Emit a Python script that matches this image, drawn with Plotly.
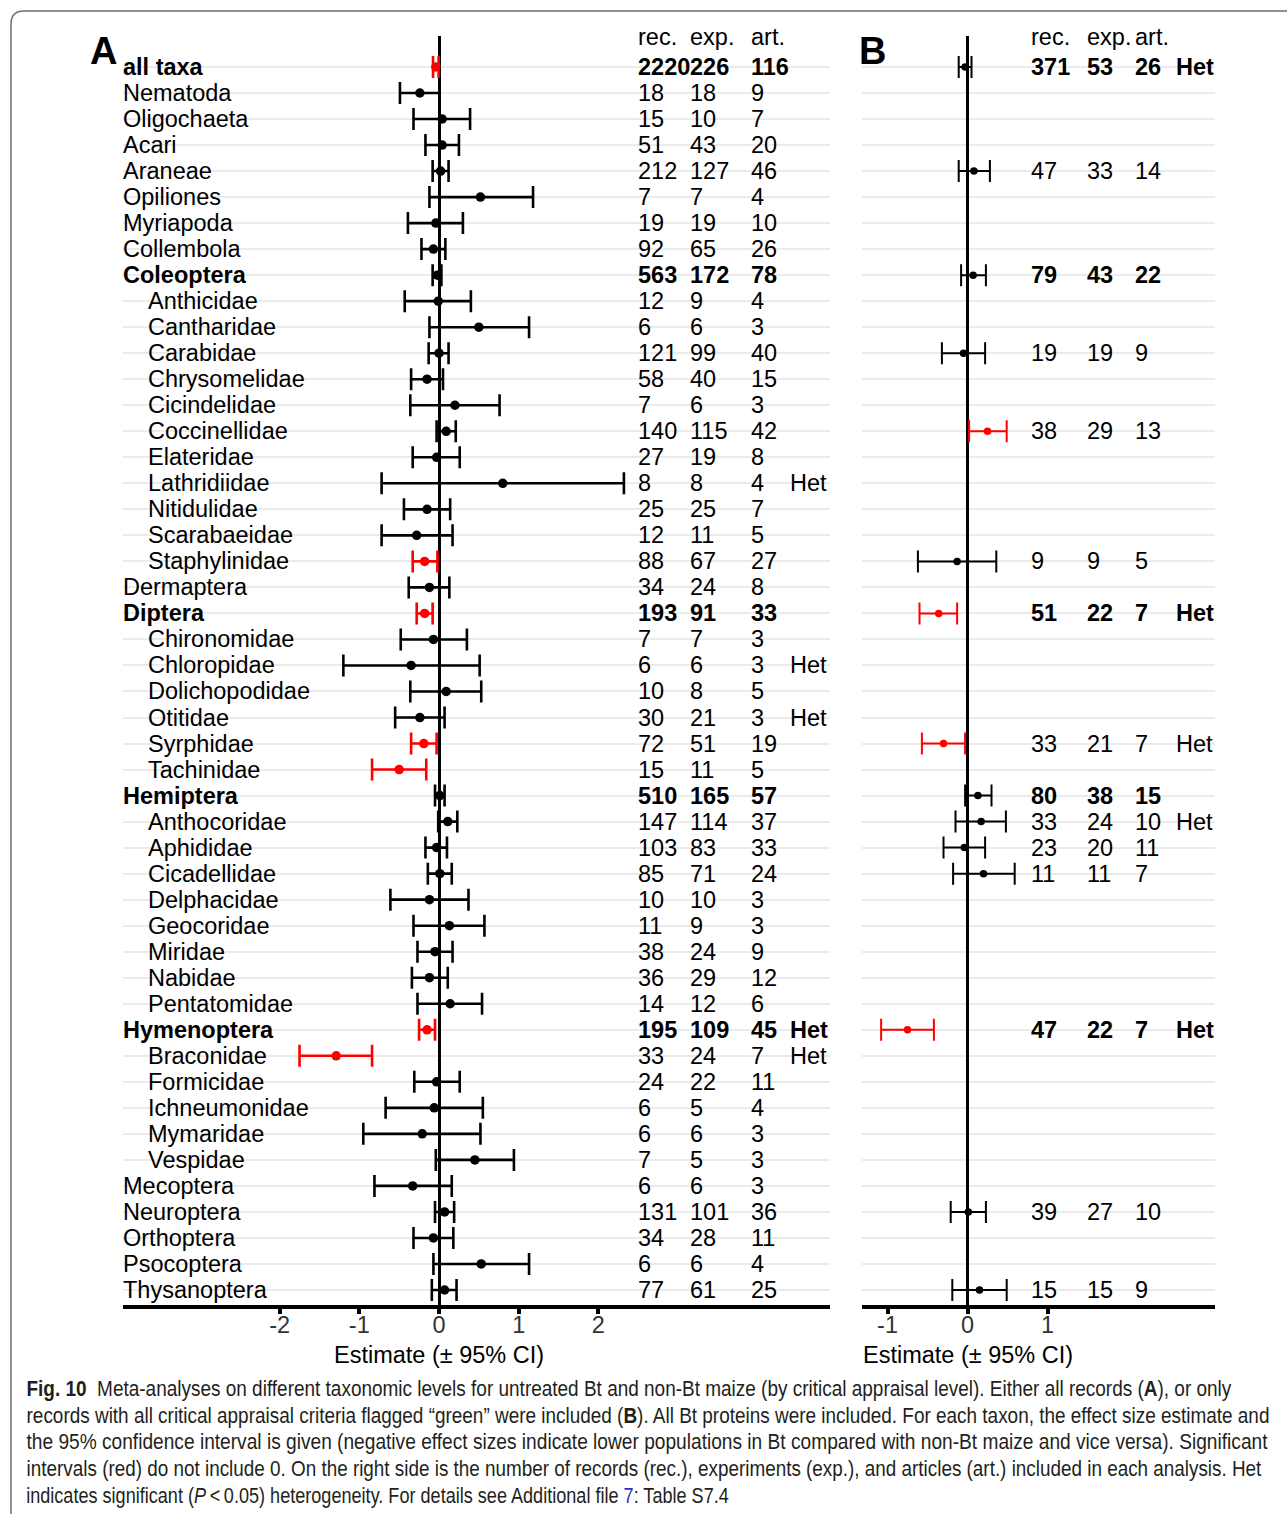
import plotly.graph_objects as go

W, H = 1287, 1514

# ---------------- data: panel A (all records) ----------------
taxa = [
    "all taxa", "Nematoda", "Oligochaeta", "Acari", "Araneae", "Opiliones",
    "Myriapoda", "Collembola", "Coleoptera", "Anthicidae", "Cantharidae",
    "Carabidae", "Chrysomelidae", "Cicindelidae", "Coccinellidae", "Elateridae",
    "Lathridiidae", "Nitidulidae", "Scarabaeidae", "Staphylinidae", "Dermaptera",
    "Diptera", "Chironomidae", "Chloropidae", "Dolichopodidae", "Otitidae",
    "Syrphidae", "Tachinidae", "Hemiptera", "Anthocoridae", "Aphididae",
    "Cicadellidae", "Delphacidae", "Geocoridae", "Miridae", "Nabidae",
    "Pentatomidae", "Hymenoptera", "Braconidae", "Formicidae", "Ichneumonidae",
    "Mymaridae", "Vespidae", "Mecoptera", "Neuroptera", "Orthoptera",
    "Psocoptera", "Thysanoptera",
]
# 0 = overall / order level, 1 = family level (indented)
level = [
    0, 0, 0, 0, 0, 0, 0, 0, 0, 1, 1, 1, 1, 1, 1, 1, 1, 1, 1, 1, 0,
    0, 1, 1, 1, 1, 1, 1, 0, 1, 1, 1, 1, 1, 1, 1, 1, 0, 1, 1, 1, 1, 1,
    0, 0, 0, 0, 0,
]
bold_taxa = ["all taxa", "Coleoptera", "Diptera", "Hemiptera", "Hymenoptera"]

est_a = [-0.04, -0.24, 0.04, 0.04, 0.02, 0.52, -0.04, -0.07, -0.02, -0.01, 0.50,
         0.00, -0.15, 0.20, 0.09, -0.03, 0.80, -0.15, -0.28, -0.18, -0.12,
         -0.18, -0.07, -0.35, 0.09, -0.24, -0.19, -0.50, 0.01, 0.11, -0.03,
         0.01, -0.12, 0.13, -0.05, -0.12, 0.14, -0.15, -1.29, -0.03, -0.06,
         -0.21, 0.45, -0.33, 0.07, -0.07, 0.53, 0.07]
lo_a = [-0.075, -0.49, -0.32, -0.17, -0.08, -0.12, -0.39, -0.22, -0.08, -0.43, -0.12,
        -0.13, -0.35, -0.36, -0.03, -0.33, -0.72, -0.44, -0.72, -0.33, -0.38,
        -0.28, -0.48, -1.20, -0.36, -0.55, -0.35, -0.84, -0.05, -0.01, -0.17,
        -0.14, -0.61, -0.32, -0.27, -0.34, -0.27, -0.25, -1.75, -0.31, -0.67,
        -0.95, -0.04, -0.81, -0.05, -0.32, -0.07, -0.09]
hi_a = [-0.005, 0.005, 0.39, 0.25, 0.12, 1.18, 0.30, 0.08, 0.03, 0.40, 1.13,
        0.12, 0.05, 0.76, 0.21, 0.26, 2.32, 0.14, 0.17, -0.02, 0.13,
        -0.08, 0.35, 0.51, 0.53, 0.07, -0.03, -0.16, 0.07, 0.23, 0.10,
        0.16, 0.37, 0.57, 0.17, 0.11, 0.54, -0.05, -0.84, 0.26, 0.55,
        0.52, 0.94, 0.16, 0.19, 0.18, 1.13, 0.22]
rec_a = [2220, 18, 15, 51, 212, 7, 19, 92, 563, 12, 6, 121, 58, 7, 140, 27, 8, 25,
         12, 88, 34, 193, 7, 6, 10, 30, 72, 15, 510, 147, 103, 85, 10, 11, 38, 36,
         14, 195, 33, 24, 6, 6, 7, 6, 131, 34, 6, 77]
exp_a = [226, 18, 10, 43, 127, 7, 19, 65, 172, 9, 6, 99, 40, 6, 115, 19, 8, 25,
         11, 67, 24, 91, 7, 6, 8, 21, 51, 11, 165, 114, 83, 71, 10, 9, 24, 29,
         12, 109, 24, 22, 5, 6, 5, 6, 101, 28, 6, 61]
art_a = [116, 9, 7, 20, 46, 4, 10, 26, 78, 4, 3, 40, 15, 3, 42, 8, 4, 7,
         5, 27, 8, 33, 3, 3, 5, 3, 19, 5, 57, 37, 33, 24, 3, 3, 9, 12,
         6, 45, 7, 11, 4, 3, 3, 3, 36, 11, 4, 25]
het_a = ["Lathridiidae", "Chloropidae", "Otitidae", "Hymenoptera", "Braconidae"]

# ---------------- data: panel B (all criteria "green") ----------------
taxa_b = ["all taxa", "Araneae", "Coleoptera", "Carabidae", "Coccinellidae",
          "Staphylinidae", "Diptera", "Syrphidae", "Hemiptera", "Anthocoridae",
          "Aphididae", "Cicadellidae", "Hymenoptera", "Neuroptera", "Thysanoptera"]
est_b = [-0.03, 0.08, 0.07, -0.05, 0.25, -0.13, -0.36, -0.30, 0.13, 0.17,
         -0.04, 0.20, -0.75, 0.01, 0.15]
lo_b = [-0.11, -0.11, -0.08, -0.32, 0.02, -0.62, -0.60, -0.57, -0.03, -0.15,
        -0.30, -0.18, -1.08, -0.21, -0.19]
hi_b = [0.05, 0.28, 0.23, 0.22, 0.49, 0.36, -0.13, -0.03, 0.30, 0.48,
        0.22, 0.59, -0.42, 0.23, 0.49]
rec_b = [371, 47, 79, 19, 38, 9, 51, 33, 80, 33, 23, 11, 47, 39, 15]
exp_b = [53, 33, 43, 19, 29, 9, 22, 21, 38, 24, 20, 11, 22, 27, 15]
art_b = [26, 14, 22, 9, 13, 5, 7, 7, 15, 10, 11, 7, 7, 10, 9]
het_b = ["all taxa", "Diptera", "Syrphidae", "Anthocoridae", "Hymenoptera"]

column_heads = ["rec.", "exp.", "art."]
caption_lines = [
    "<b>Fig. 10</b>  Meta-analyses on different taxonomic levels for untreated Bt and non-Bt maize "
    "(by critical appraisal level). Either all records (<b>A</b>), or only",
    "records with all critical appraisal criteria flagged \u201cgreen\u201d were included (<b>B</b>). "
    "All Bt proteins were included. For each taxon, the effect size estimate and",
    "the 95% confidence interval is given (negative effect sizes indicate lower populations in Bt "
    "compared with non-Bt maize and vice versa). Significant",
    "intervals (red) do not include 0. On the right side is the number of records (rec.), "
    "experiments (exp.), and articles (art.) included in each analysis. Het",
    "indicates significant (<i>P</i>\u2009<\u20090.05) heterogeneity. For details see Additional file "
    "<span style='color:#2a35c9'>7</span>: Table S7.4",
]
# set width (px) of each caption line, typeset in a condensed face
caption_widths = [1206, 1244, 1242, 1236, 703]

# ---------------- layout helpers ----------------
FONT = "Liberation Sans, Arial, Helvetica, sans-serif"
CAP_FONT = "Liberation Sans, Arial, sans-serif"
FS = 23.5
N = len(taxa)
ypos = {t: N - i for i, t in enumerate(taxa)}
PAD_A = 2.5 / 79.7   # compensate annotation padding (px -> data units)
PAD_B = 2.5 / 80.0


def px(x):
    return x / W


def py(y):
    return 1 - y / H


def bold(s, on):
    return f"<b>{s}</b>" if on else s


fig = go.Figure()


def add_forest(xaxis, names, est, lo, hi, msize, thick):
    for colour in ("black", "red"):
        idx = [i for i in range(len(names))
               if (("red" if (hi[i] < 0 or lo[i] > 0) else "black") == colour)]
        fig.add_trace(go.Scatter(
            x=[est[i] for i in idx],
            y=[ypos[names[i]] for i in idx],
            xaxis=xaxis, yaxis="y",
            mode="markers",
            marker=dict(color=colour, size=msize),
            error_x=dict(type="data", symmetric=False,
                         array=[hi[i] - est[i] for i in idx],
                         arrayminus=[est[i] - lo[i] for i in idx],
                         color=colour, thickness=thick, width=11),
            showlegend=False, hoverinfo="skip",
        ))


add_forest("x", taxa, est_a, lo_a, hi_a, 9.5, 2.6)
add_forest("x2", taxa_b, est_b, lo_b, hi_b, 7.5, 2.0)

ann = []

# taxon labels at the left edge of panel A (families indented)
for i, t in enumerate(taxa):
    ann.append(dict(x=px(120.5 + 25 * level[i]), y=ypos[t], xref="paper", yref="y",
                    text=bold(t, t in bold_taxa), showarrow=False,
                    xanchor="left", yanchor="middle",
                    font=dict(size=FS, color="black", family=FONT)))


def add_counts(xref, names, rec, exp, art, het, cols, pad):
    cols = [c - pad for c in cols]
    for head, cx in zip(column_heads, cols):
        ann.append(dict(x=cx, y=49.15, xref=xref, yref="y", text=head,
                        showarrow=False, xanchor="left", yanchor="middle",
                        font=dict(size=FS, color="black", family=FONT)))
    for i, t in enumerate(names):
        b = t in bold_taxa
        vals = [rec[i], exp[i], art[i]] + (["Het"] if t in het else [])
        for v, cx in zip(vals, cols):
            ann.append(dict(x=cx, y=ypos[t], xref=xref, yref="y",
                            text=bold(v, b), showarrow=False,
                            xanchor="left", yanchor="middle",
                            font=dict(size=FS, color="black", family=FONT)))


add_counts("x", taxa, rec_a, exp_a, art_a, het_a, [2.5, 3.16, 3.915, 4.415], PAD_A)
add_counts("x2", taxa_b, rec_b, exp_b, art_b, het_b, [0.805, 1.5, 2.1, 2.615], PAD_B)

# panel letters
ann.append(dict(x=px(103), y=py(51), xref="paper", yref="paper", text="<b>A</b>",
                showarrow=False, xanchor="center", yanchor="middle",
                font=dict(size=38, color="black", family=FONT)))
ann.append(dict(x=px(872), y=py(51), xref="paper", yref="paper", text="<b>B</b>",
                showarrow=False, xanchor="center", yanchor="middle",
                font=dict(size=38, color="black", family=FONT)))

# axis titles, centred on the zero line
for xr in ("x", "x2"):
    ann.append(dict(x=0, y=py(1355), xref=xr, yref="paper",
                    text="Estimate (\u00b1 95% CI)", showarrow=False,
                    xanchor="center", yanchor="middle",
                    font=dict(size=FS, color="black", family=FONT)))

# figure caption (last annotations)
cap_start = len(ann)
for k, line in enumerate(caption_lines):
    ann.append(dict(x=px(26) - 2 / W, y=py(1389 + 26.7 * k), xref="paper", yref="paper",
                    text=line, showarrow=False, xanchor="left", yanchor="middle",
                    font=dict(size=21.5, color="#231f20", family=CAP_FONT)))

# rounded frame around the figure
frame = (f"M {px(11)},{py(1514)} L {px(11)},{py(24)} "
         f"Q {px(11)},{py(11)} {px(24)},{py(11)} L 1.0,{py(11)}")

axis_common = dict(
    showgrid=False, zeroline=True, zerolinecolor="black", zerolinewidth=2.5,
    showline=True, linecolor="black", linewidth=4,
    ticks="outside", ticklen=5, tickwidth=4, tickcolor="black",
    tickfont=dict(size=FS, color="#333333", family=FONT),
    ticklabelstandoff=-9,
    anchor="y",
)

fig.update_layout(
    width=W, height=H,
    margin=dict(l=0, r=0, t=0, b=0),
    paper_bgcolor="white", plot_bgcolor="white",
    font=dict(family=FONT, color="black"),
    xaxis=dict(domain=[px(123), px(830)], range=[-3.965, 4.906],
               tickvals=[-2, -1, 0, 1, 2], ticktext=["-2", "-1", "0", "1", "2"],
               **axis_common),
    xaxis2=dict(domain=[px(862), px(1215)], range=[-1.319, 3.094],
                tickvals=[-1, 0, 1], ticktext=["-1", "0", "1"],
                **axis_common),
    yaxis=dict(domain=[py(1305), py(36)], range=[0.4235, 49.19],
               tickvals=list(range(1, N + 1)), showticklabels=False, ticks="",
               showgrid=True, gridcolor="#ebebeb", gridwidth=2,
               zeroline=False, showline=False),
    annotations=ann,
    shapes=[dict(type="path", path=frame, xref="paper", yref="paper",
                 line=dict(color="#6e6e6e", width=1.5))],
)

# condense the caption lines horizontally to their set widths
condense_js = """
var gd = document.getElementById('{plot_id}');
var widths = %s;
var start = %d;
widths.forEach(function(w, k) {
  var g = gd.querySelector('g.annotation[data-index="' + (start + k) + '"]');
  if (!g) { return; }
  var t = g.querySelector('text.annotation-text');
  if (!t) { return; }
  var bb = t.getBBox();
  if (!bb.width) { return; }
  var s = w / bb.width;
  t.setAttribute('transform', 'translate(' + bb.x + ',0) scale(' + s + ',1) translate(' + (-bb.x) + ',0)');
});
""" % (caption_widths, cap_start)

fig.write_html("out.html", post_script=condense_js)
